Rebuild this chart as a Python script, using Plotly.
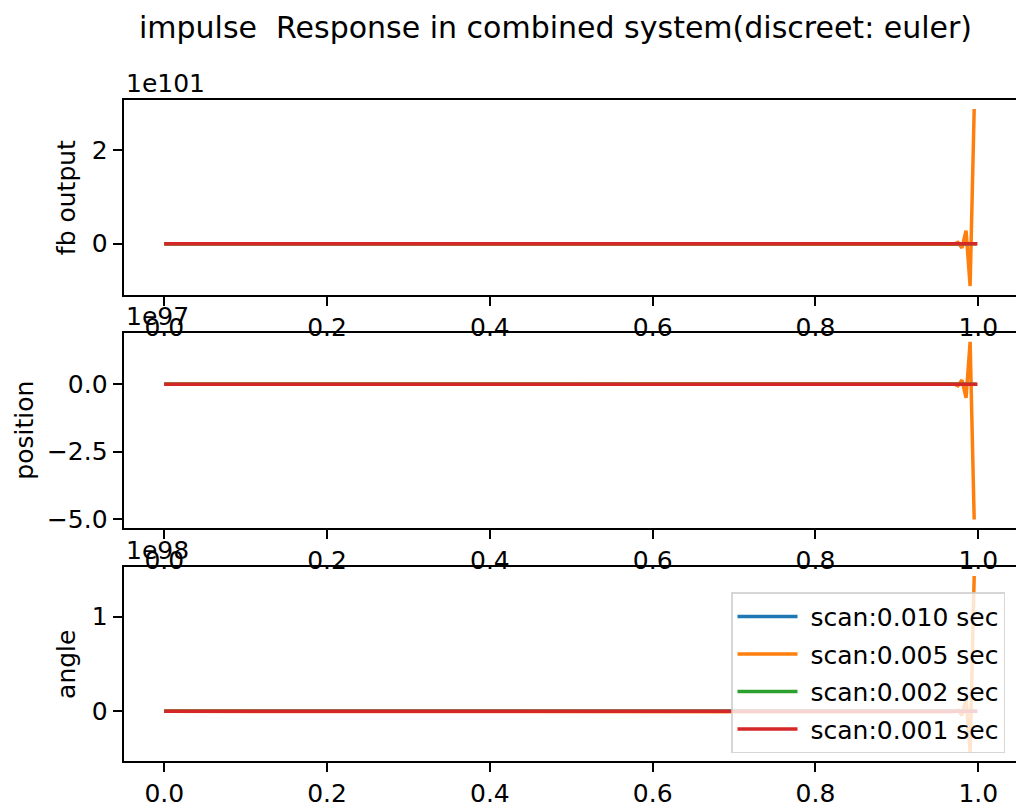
import plotly.graph_objects as go

# ---------------- data ----------------
labels = ["scan:0.010 sec", "scan:0.005 sec", "scan:0.002 sec", "scan:0.001 sec"]
colors = ["#1f77b4", "#ff7f0e", "#2ca02c", "#d62728"]

# time stamps (sec)
t_010 = [0.0, 0.99]
t_005 = [0.0, 0.965, 0.97, 0.975, 0.98, 0.985, 0.99, 0.995]
t_002 = [0.0, 0.998]
t_001 = [0.0, 0.999]

# fb output (units of 1e101)
fb_010 = [0.0, 0.0]
fb_005 = [0.0, 0.0, -0.0085, 0.027, -0.088, 0.28, -0.90, 2.87]
fb_002 = [0.0, 0.0]
fb_001 = [0.0, 0.0]

# position (units of 1e97)
pos_010 = [0.0, 0.0]
pos_005 = [0.0, 0.0, 0.015, -0.05, 0.16, -0.50, 1.58, -5.02]
pos_002 = [0.0, 0.0]
pos_001 = [0.0, 0.0]

# angle (units of 1e98)
ang_010 = [0.0, 0.0]
ang_005 = [0.0, 0.0, -0.004, 0.013, -0.042, 0.135, -0.434, 1.43]
ang_002 = [0.0, 0.0]
ang_001 = [0.0, 0.0]

times = [t_010, t_005, t_002, t_001]
panels = [
    dict(name="fb output", exp="1e101", series=[fb_010, fb_005, fb_002, fb_001],
         tickvals=[0, 2], ticktext=["0", "2"]),
    dict(name="position", exp="1e97", series=[pos_010, pos_005, pos_002, pos_001],
         tickvals=[-5.0, -2.5, 0.0], ticktext=["\u22125.0", "\u22122.5", "0.0"]),
    dict(name="angle", exp="1e98", series=[ang_010, ang_005, ang_002, ang_001],
         tickvals=[0, 1], ticktext=["0", "1"]),
]
x_tickvals = [0.0, 0.2, 0.4, 0.6, 0.8, 1.0]
x_ticktext = ["0.0", "0.2", "0.4", "0.6", "0.8", "1.0"]
title = "impulse\u00a0 Response in combined system(discreet: euler)"

# ---------------- layout geometry (pixels) ----------------
W, H = 1016, 811
FONT = "DejaVu Sans"
px_per_unit = 814.0
x0_px = 123.6
panel_px = [(100.7, 296.7), (335.0, 531.7), (570.7, 766.0)]
ylabel_x_px = [66.7, 25.0, 66.7]

all_t = [v for t in times for v in t]
tmin, tmax = min(all_t), max(all_t)
x_lo = tmin - 0.05 * (tmax - tmin)
x_hi = x_lo + (W - x0_px) / px_per_unit

fig = go.Figure()
annotations = []
layout_axes = {}
for i, p in enumerate(panels):
    k = "" if i == 0 else str(i + 1)
    for j in range(4):
        fig.add_trace(go.Scatter(
            x=times[j], y=p["series"][j], mode="lines",
            line=dict(color=colors[j], width=3.5),
            name="\u00a0" + labels[j], showlegend=(i == 2),
            legendgroup="g%d" % j,
            xaxis="x" + k, yaxis="y" + k,
        ))
    vals = [v for s in p["series"] for v in s]
    vmin, vmax = min(vals), max(vals)
    span = vmax - vmin
    top, bot = panel_px[i]
    dom = [(H - bot) / H, (H - top) / H]
    common = dict(showline=True, linecolor="black", linewidth=2, ticks="outside",
                  ticklen=9, tickwidth=2, tickcolor="black", showgrid=False,
                  zeroline=False, tickfont=dict(family=FONT, size=25, color="black"))
    layout_axes["xaxis" + k] = dict(common, domain=[x0_px / W, 1.0], range=[x_lo, x_hi],
                                    anchor="y" + k, mirror=True,
                                    tickvals=x_tickvals, ticktext=x_ticktext)
    layout_axes["yaxis" + k] = dict(common, domain=dom,
                                    range=[vmin - 0.05 * span, vmax + 0.05 * span],
                                    anchor="x" + k, tickvals=p["tickvals"],
                                    ticktext=p["ticktext"])
    annotations.append(dict(text=p["exp"], xref="paper", yref="paper", x=124 / W,
                            y=dom[1], xanchor="left", yanchor="bottom", showarrow=False,
                            font=dict(family=FONT, size=25, color="black")))
    annotations.append(dict(text=p["name"], xref="paper", yref="paper",
                            x=ylabel_x_px[i] / W, y=(dom[0] + dom[1]) / 2,
                            xanchor="center", yanchor="middle", textangle=-90,
                            showarrow=False,
                            font=dict(family=FONT, size=25, color="black")))

annotations.append(dict(text=title, xref="paper", yref="paper", x=555.5 / W,
                        y=(H - 28) / H, xanchor="center", yanchor="middle",
                        showarrow=False, font=dict(family=FONT, size=30, color="black")))

fig.update_layout(
    width=W, height=H, margin=dict(l=0, r=0, t=0, b=0),
    paper_bgcolor="white", plot_bgcolor="white",
    font=dict(family=FONT, size=25, color="black"),
    annotations=annotations,
    legend=dict(x=1005 / W, y=(H - 596) / H, xanchor="right", yanchor="top",
                bgcolor="rgba(255,255,255,0.8)", bordercolor="rgba(204,204,204,0.8)",
                borderwidth=1.5, font=dict(family=FONT, size=25, color="black"),
                itemwidth=60, tracegroupgap=2),
    **layout_axes,
)
fig.write_html("out.html")
